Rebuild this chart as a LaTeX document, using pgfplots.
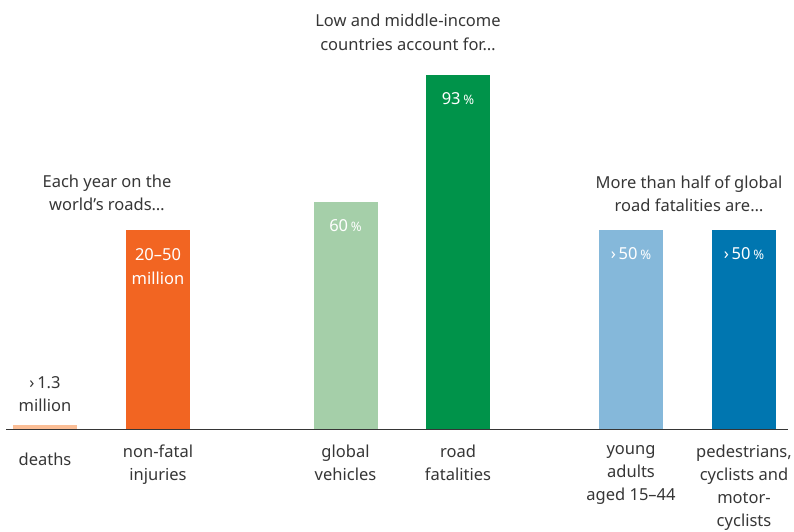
\documentclass[border=0pt]{standalone}
\usepackage{pgfplots}
\pgfplotsset{compat=1.18}
\usepackage{fontspec}
\setmainfont{Noto Sans}
\definecolor{txt}{HTML}{363636}
\definecolor{c1}{HTML}{FBBE96}
\definecolor{c2}{HTML}{F26522}
\definecolor{c3}{HTML}{A5CFA9}
\definecolor{c4}{HTML}{00934A}
\definecolor{c5}{HTML}{85B8DA}
\definecolor{c6}{HTML}{0076B0}
\newcommand{\pc}{\,{\fontsize{13}{13}\selectfont\%}}
\newcommand{\gt}{{\fontsize{16.5}{16}\selectfont ›}\,}
\tikzset{lbl/.style={font=\fontsize{16.5}{23.5}\selectfont, text=txt, align=center, inner sep=0pt}}
\begin{document}
\begin{tikzpicture}
\begin{axis}[name=ax,
  scale only axis, width=794pt, height=532pt,
  xmin=0, xmax=794, ymin=-102, ymax=430,
  axis lines=none, clip=false,
  bar width=64,
]
\addplot[ybar, bar shift=0pt, fill=c1, draw=none] coordinates {(45,5)};
\addplot[ybar, bar shift=0pt, fill=c2, draw=none] coordinates {(158,200)};
\addplot[ybar, bar shift=0pt, fill=c3, draw=none] coordinates {(345.5,228)};
\addplot[ybar, bar shift=0pt, fill=c4, draw=none] coordinates {(458,355)};
\addplot[ybar, bar shift=0pt, fill=c5, draw=none] coordinates {(631,200)};
\addplot[ybar, bar shift=0pt, fill=c6, draw=none] coordinates {(744,200)};
\draw[txt, line width=1pt] (axis cs:6,0) -- (axis cs:788,0);
% value labels
\node[lbl] at (axis cs:45,36) {\gt1.3\\million};
\node[lbl, text=white] at (axis cs:158,163.5) {20–50\\million};
\node[lbl, text=white] at (axis cs:345.5,204) {60\pc};
\node[lbl, text=white] at (axis cs:458,331) {93\pc};
\node[lbl, text=white] at (axis cs:631,176) {\gt50\pc};
\node[lbl, text=white] at (axis cs:744,176) {\gt50\pc};
% group titles
\node[lbl] at (axis cs:107,237) {Each year on the\\world’s roads…};
\node[lbl] at (axis cs:408,397.5) {Low and middle-income\\countries account for…};
\node[lbl] at (axis cs:689,236) {More than half of global\\road fatalities are…};
% category labels
\node[lbl] at (axis cs:45,-29) {deaths};
\node[lbl, font=\fontsize{16.5}{23}\selectfont, anchor=north] at (axis cs:158,-15) {non-fatal\\injuries};
\node[lbl, font=\fontsize{16.5}{23}\selectfont, anchor=north] at (axis cs:345.5,-15) {global\\vehicles};
\node[lbl, font=\fontsize{16.5}{23}\selectfont, anchor=north] at (axis cs:458,-15) {road\\fatalities};
\node[lbl, font=\fontsize{16.5}{23}\selectfont, anchor=north] at (axis cs:631,-15) {young\\adults\\aged 15–44};
\node[lbl, font=\fontsize{16.5}{23}\selectfont, anchor=north] at (axis cs:744,-15) {pedestrians,\\cyclists and\\motor-\\cyclists};
\end{axis}
\pgfresetboundingbox
\useasboundingbox (ax.south west) rectangle (ax.north east);
\end{tikzpicture}
\end{document}
